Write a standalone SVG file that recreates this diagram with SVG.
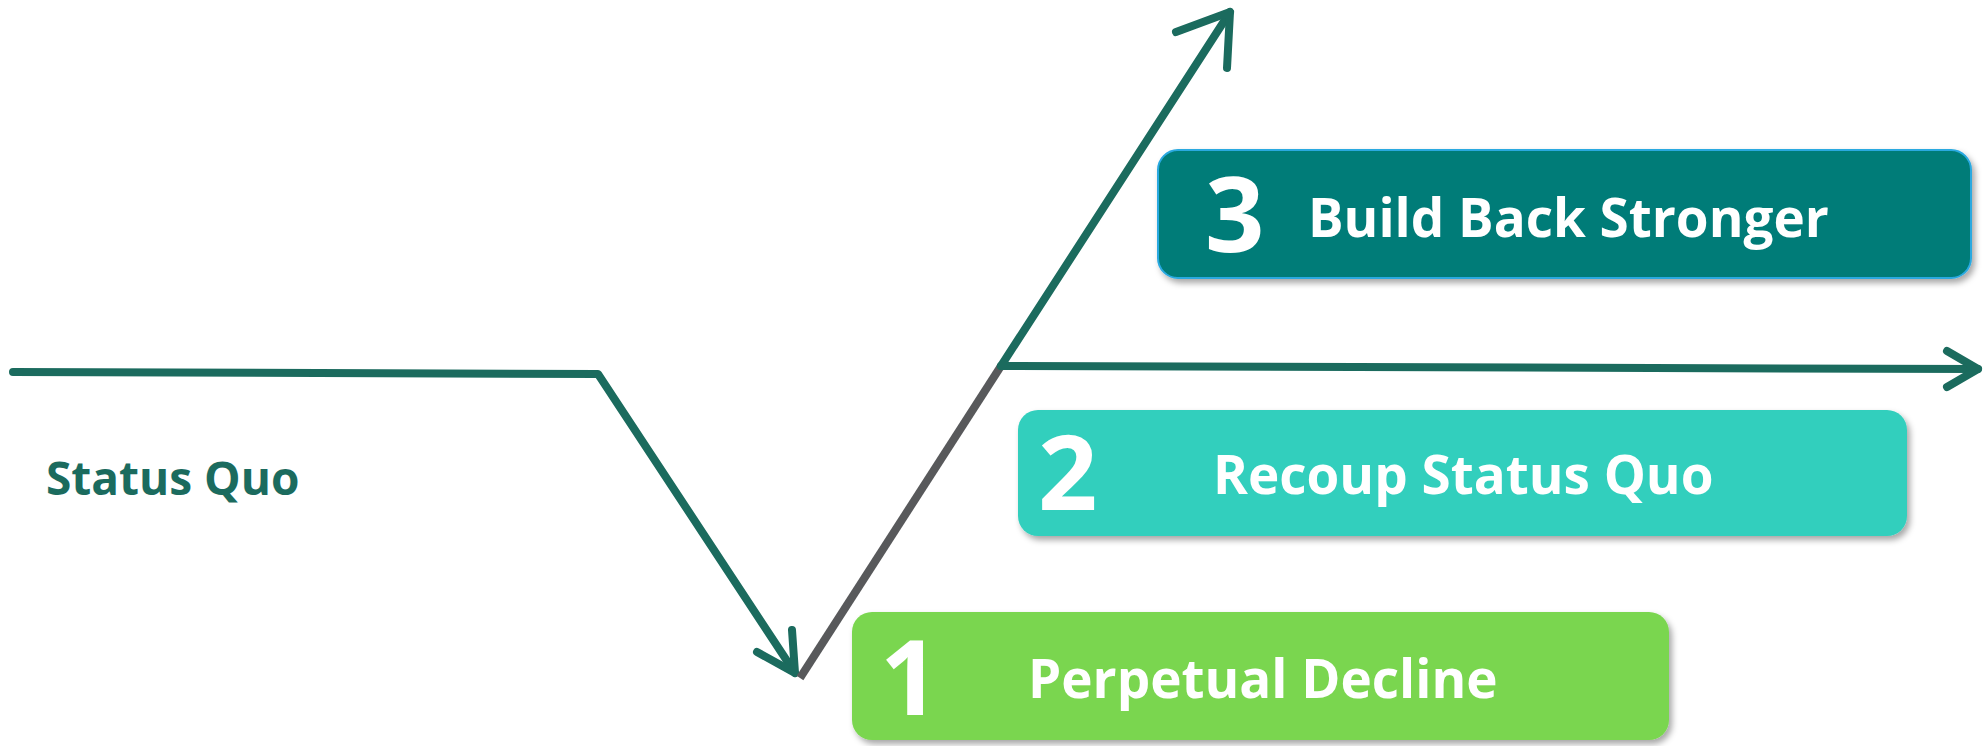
<svg xmlns="http://www.w3.org/2000/svg" width="1985" height="746" viewBox="0 0 1985 746">
<defs>
<filter id="sh" x="-5%" y="-10%" width="112%" height="130%">
<feDropShadow dx="3" dy="4" stdDeviation="3" flood-color="#000" flood-opacity="0.35"/>
</filter>
</defs>
<style>
.ln{fill:none;stroke:#1b6b5e;stroke-width:8;stroke-linecap:round;stroke-linejoin:round}
.gr{fill:none;stroke:#58595b;stroke-width:8}
.num{font-family:"Open Sans","Liberation Sans",sans-serif;font-weight:700;fill:#fff}
.lbl{font-family:"Open Sans","Liberation Sans",sans-serif;font-weight:700;fill:#fff;font-size:53px}
</style>
<rect width="1985" height="746" fill="#fff"/>
<g id="connectors">
<path class="ln" d="M13,372 L598,374 L795,673"/>
<path class="ln" d="M757,652 L795,673 L792,630"/>
<path class="gr" d="M800,678 L1001,366"/>
<path class="ln" d="M1001,366 L1230,12"/>
<path class="ln" d="M1176,32 L1230,12 L1227,68"/>
<path class="ln" d="M1001,366 L1978,369"/>
<path class="ln" d="M1947,351 L1978,369 L1947,387"/>
</g>
<g id="status-quo">
<text x="46" y="495" font-family="Open Sans, Liberation Sans, sans-serif" font-weight="700" font-size="46" fill="#1b6b5e">Status Quo</text>
</g>
<g id="box3">
<rect x="1158" y="150" width="813" height="128" rx="20" fill="#007b78" stroke="#29a9e0" stroke-width="2" filter="url(#sh)"/>
<text class="num" x="1205" y="252" font-size="104">3</text>
<text class="lbl" x="1308" y="237">Build Back Stronger</text>
</g>
<g id="box2">
<rect x="1018" y="410" width="889" height="126" rx="20" fill="#33cfbd" filter="url(#sh)"/>
<text class="num" x="1038" y="510" font-size="104">2</text>
<text class="lbl" x="1213" y="494">Recoup Status Quo</text>
</g>
<g id="box1">
<rect x="852" y="612" width="817" height="128" rx="20" fill="#7ad64f" filter="url(#sh)"/>
<text class="num" x="880" y="715" font-size="104">1</text>
<text class="lbl" x="1028" y="698">Perpetual Decline</text>
</g>
</svg>
